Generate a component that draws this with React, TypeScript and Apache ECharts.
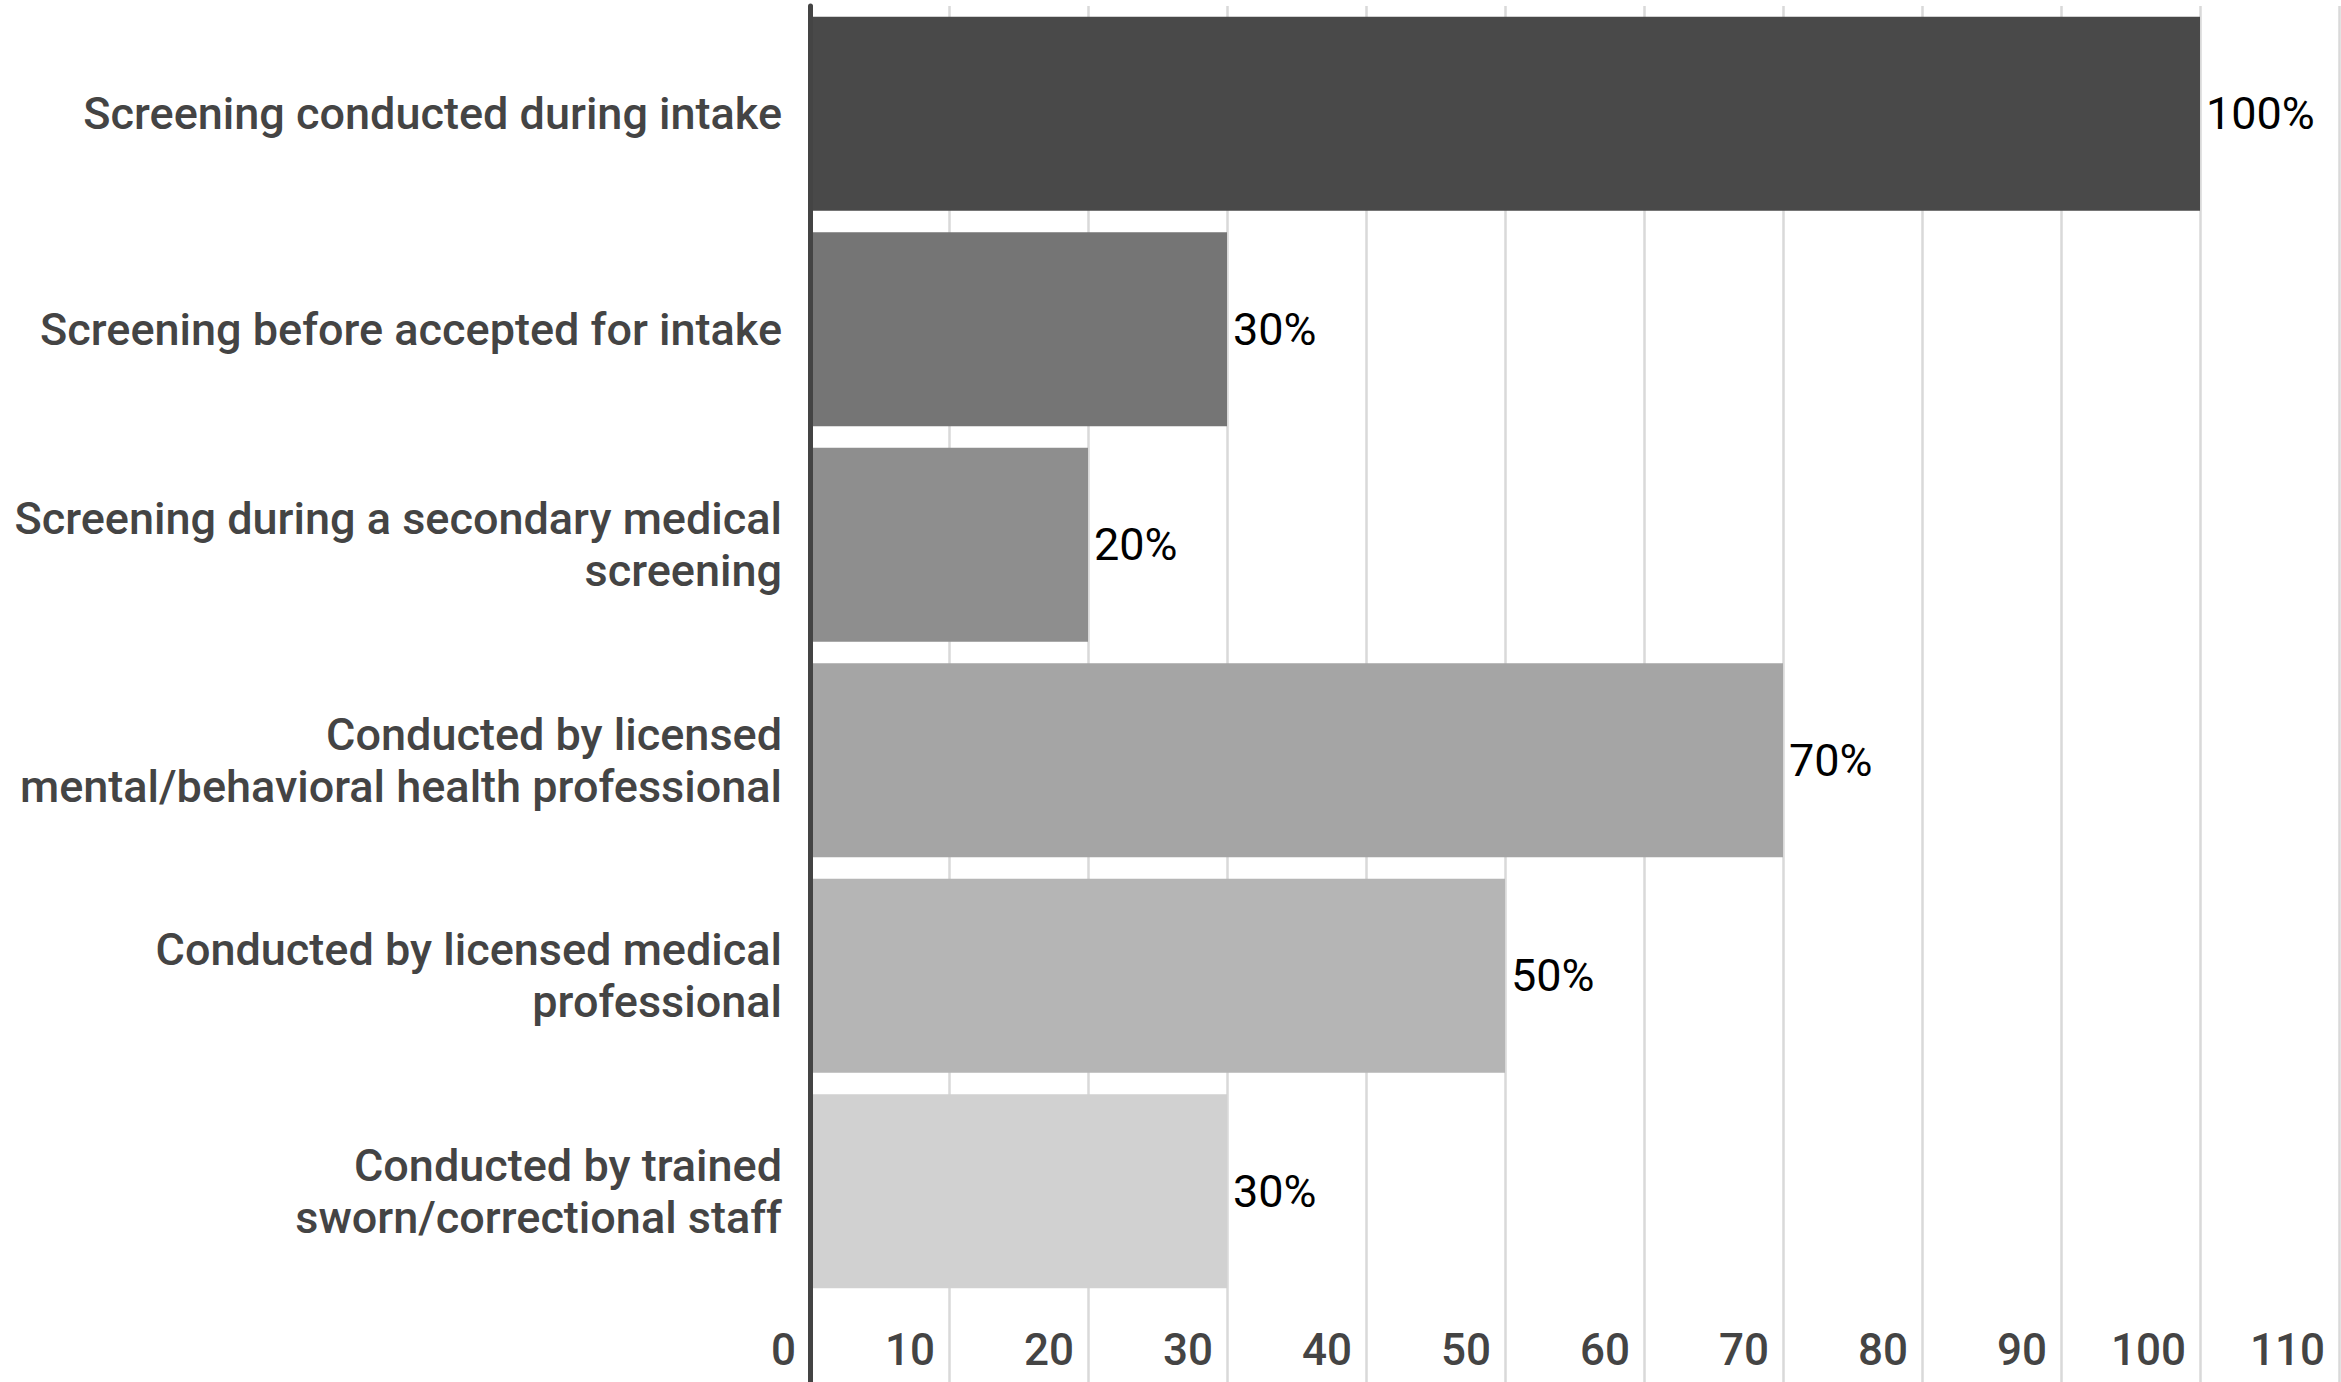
import React, { useEffect, useRef } from "react";
import * as echarts from "echarts";

const categories = [
  "Screening conducted during intake",
  "Screening before accepted for intake",
  "Screening during a secondary medical\nscreening",
  "Conducted by licensed\nmental/behavioral health professional",
  "Conducted by licensed medical\nprofessional",
  "Conducted by trained\nsworn/correctional staff",
];
const values = [100, 30, 20, 70, 50, 30];
const barColors = ["#494949", "#757575", "#8e8e8e", "#a5a5a5", "#b5b5b5", "#d1d1d1"];
const axisMin = 0;
const axisMax = 110;
const axisStep = 10;

export default function App() {
  const ref = useRef<HTMLDivElement>(null);
  useEffect(() => {
    document.body.style.margin = "0";
    if (!ref.current) return;
    const chart = echarts.init(ref.current, null, { renderer: "svg" });
    const font = "Roboto";
    const grid = "#d9d9d9";
    chart.setOption({
      animation: false,
      backgroundColor: "#ffffff",
      grid: [
        { left: 810, right: 2, top: 6, bottom: 83 },
        { left: 810, right: 2, top: 1299, bottom: 0 },
      ],
      xAxis: [
        {
          gridIndex: 0,
          type: "value",
          min: axisMin,
          max: axisMax,
          interval: axisStep,
          axisLabel: { show: false },
          axisLine: { show: false },
          axisTick: { show: false },
          splitLine: { show: true, lineStyle: { color: grid, width: 2.5 } },
        },
        {
          gridIndex: 1,
          type: "value",
          position: "top",
          min: axisMin,
          max: axisMax,
          interval: axisStep,
          axisLine: { show: false },
          axisTick: { show: false },
          splitLine: { show: true, lineStyle: { color: grid, width: 2.5 } },
          axisLabel: {
            inside: true,
            margin: 51,
            align: "right",
            verticalAlign: "middle",
            padding: [0, 14, 0, 0],
            fontSize: 44,
            fontWeight: 500,
            fontFamily: font,
            color: "#444444",
          },
        },
      ],
      yAxis: [
        {
          gridIndex: 0,
          type: "category",
          inverse: true,
          data: categories,
          z: 5,
          axisLine: { show: true, lineStyle: { color: "#444444", width: 5 } },
          axisTick: { show: false },
          axisLabel: {
            margin: 28,
            fontSize: 45,
            fontWeight: 500,
            lineHeight: 52,
            fontFamily: font,
            color: "#444444",
            align: "right",
          },
        },
        {
          gridIndex: 1,
          type: "category",
          data: [""],
          z: 5,
          axisLine: { show: true, lineStyle: { color: "#444444", width: 5 } },
          axisTick: { show: false },
          axisLabel: { show: false },
        },
      ],
      series: [
        {
          type: "bar",
          xAxisIndex: 0,
          yAxisIndex: 0,
          barCategoryGap: "10%",
          data: values.map((v, i) => ({ value: v, itemStyle: { color: barColors[i] } })),
          label: {
            show: true,
            position: "right",
            distance: 6,
            formatter: "{c}%",
            fontSize: 45,
            fontFamily: font,
            color: "#000000",
          },
        },
      ],
    });
    return () => chart.dispose();
  }, []);
  return <div ref={ref} style={{ width: 2341, height: 1382 }} />;
}
